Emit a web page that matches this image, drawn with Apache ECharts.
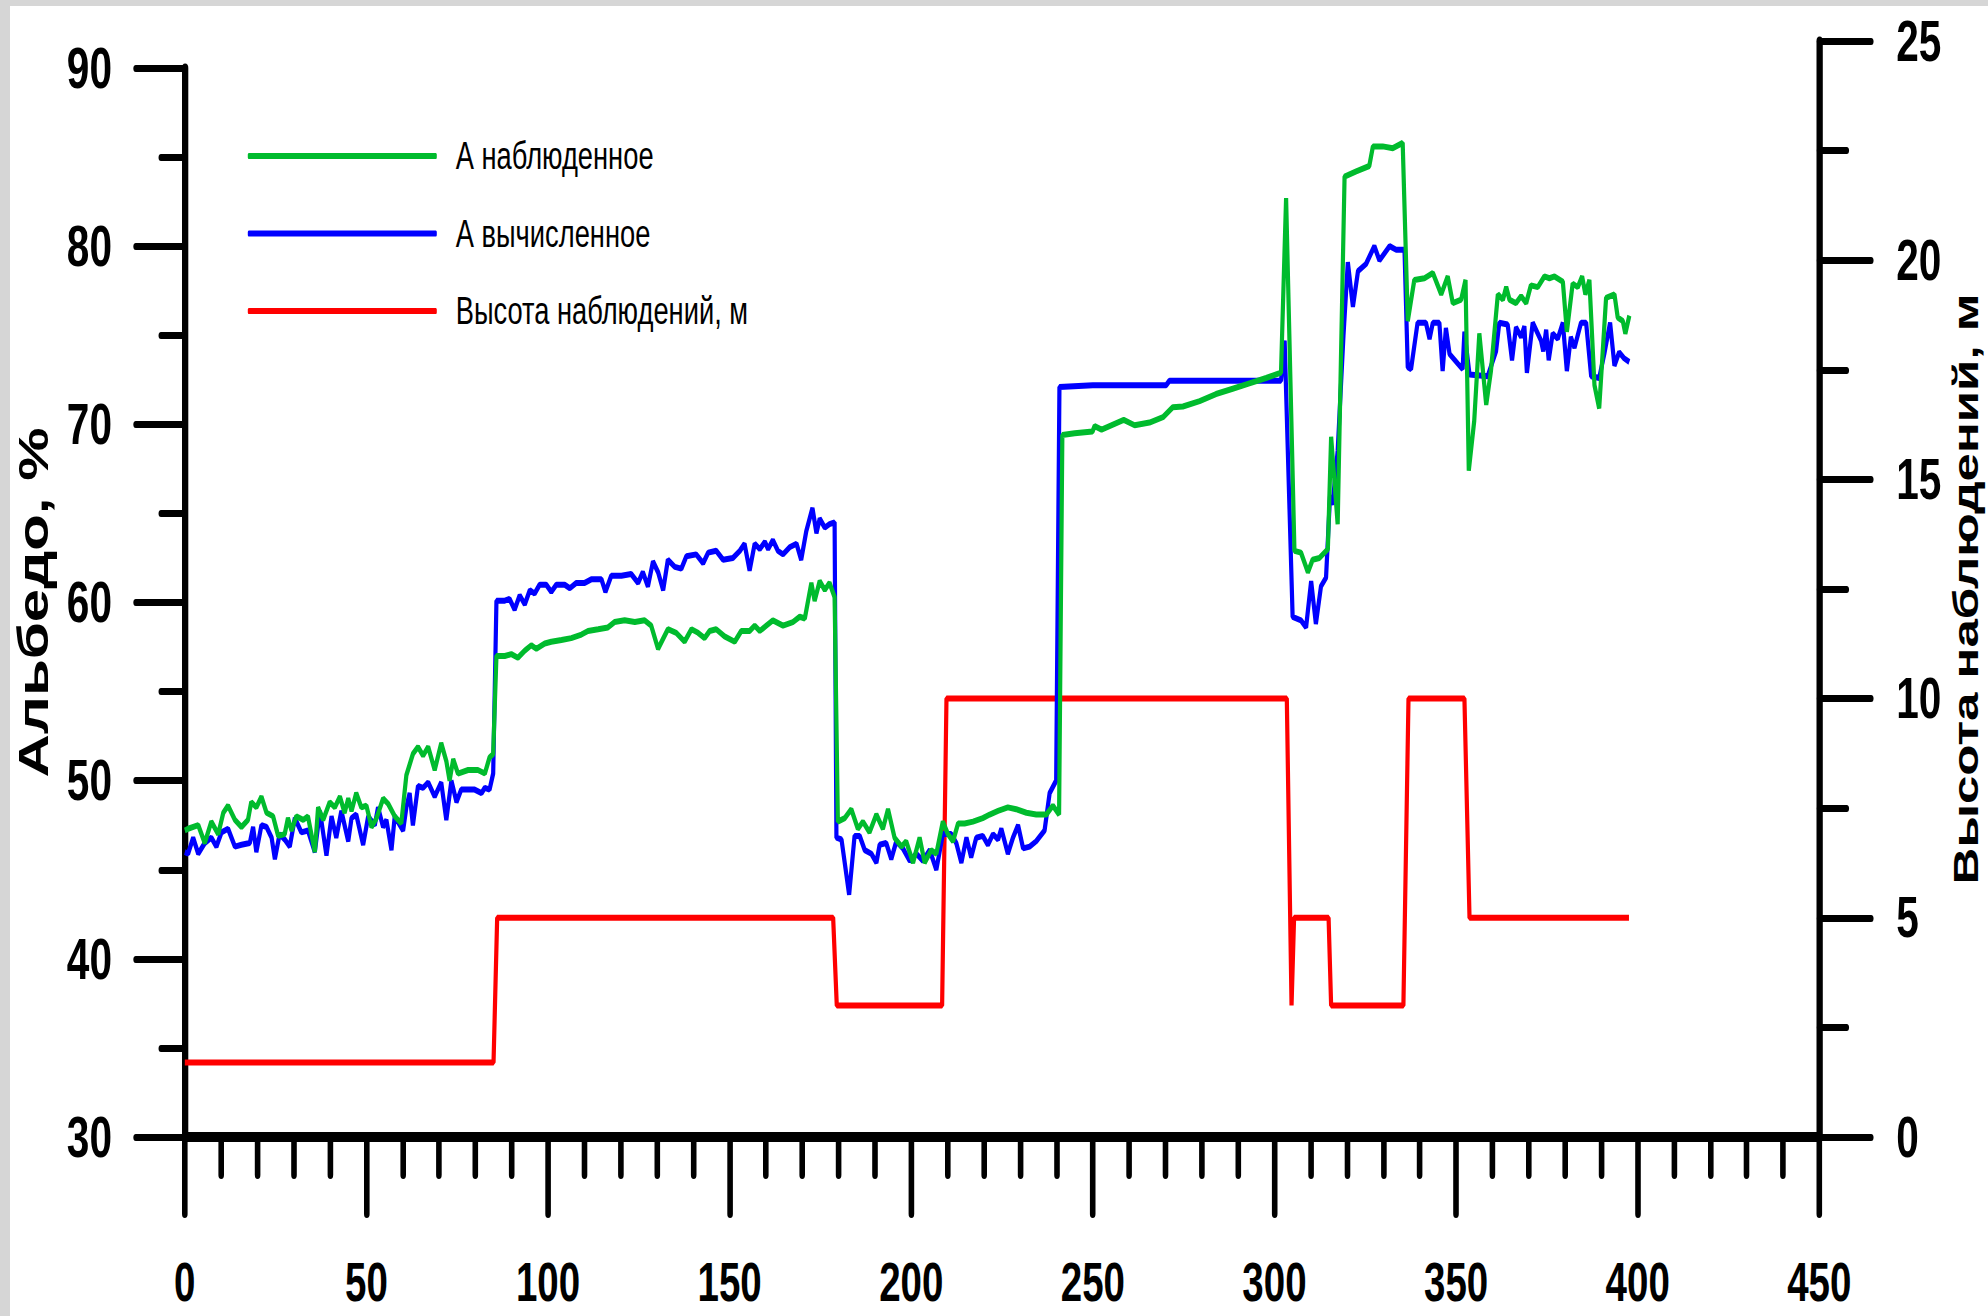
<!DOCTYPE html>
<html>
<head>
<meta charset="utf-8">
<script src="https://cdn.jsdelivr.net/npm/echarts@6/dist/echarts.min.js"></script>
<style>
html,body{margin:0;padding:0;background:#d6d6d6;overflow:hidden;}
#bg{position:absolute;left:10px;top:6px;width:1978px;height:1310px;background:#ffffff;}
/* the reference picture is horizontally condensed (x0.7): the chart is laid out 2840px wide and squeezed to 1988px */
#chart{position:absolute;left:0;top:0;width:2840px;height:1316px;transform:scaleX(0.7);transform-origin:0 0;}
</style>
</head>
<body>
<div id="bg"></div>
<div id="chart"></div>
<script>
// ---- Data ----
const seriesNames = ['А наблюденное', 'А вычисленное', 'Высота наблюдений, м'];

// A наблюденное (observed albedo, %)
const obsX = [0,0.9,3.7,5.5,7.3,9.2,10.6,11.9,13.8,15.6,17.4,18.3,19.7,21.1,22.5,24.3,25.7,27.5,28.4,29.4,30.7,32.6,33.9,35.8,36.7,38.1,39.9,41.3,42.7,44.0,45.0,45.9,47.2,48.6,50.0,51.4,52.8,54.6,56.0,57.8,59.6,61.0,62.8,64.2,65.6,67.0,68.8,70.6,72.0,72.9,73.9,75.2,78.0,80.7,82.6,83.9,84.9,
85.8,88.1,89.9,91.7,93.6,95.4,96.8,99.1,100.9,103.7,106.4,109.2,111.0,113.8,116.5,118.3,121.1,123.9,126.6,128.4,130.3,133.0,135.3,137.6,139.5,141.3,143.1,144.5,146.3,148.6,151.4,153.2,155.5,156.9,158.3,160.1,161.9,164.7,167.4,169.3,170.7,172.5,173.4,174.8,176.2,177.5,178.9,
179.8,181.7,183.5,185.3,186.7,188.5,190.4,192.2,193.6,195.4,197.3,198.6,200.5,202.3,203.7,205.5,206.9,208.7,210.1,211.5,212.9,214.7,217.0,219.7,221.6,223.9,226.6,228.9,231.7,234.4,237.2,239.0,240.7,
241.6,245.0,249.9,250.5,252.4,258.5,261.5,265.6,269.3,272.0,274.8,279.4,283.9,288.5,293.1,297.7,301.8,303.2,305.5,307.3,309.2,310.5,312.4,314.7,315.6,317.4,319.3,322.5,326.1,327.1,329.8,332.6,335.3,
336.7,338.5,341.3,343.6,345.9,347.7,349.1,351.4,352.6,353.5,355.0,356.4,358.3,359.6,361.5,362.9,363.8,364.7,366.5,367.9,369.3,370.6,372.5,374.3,375.7,377.1,379.4,380.5,382.1,383.5,384.7,385.6,386.7,388.1,389.4,391.3,393.6,394.5,395.9,396.6,397.7];
const obsY = [47.2,47.3,47.5,46.5,47.7,47.0,48.2,48.6,47.8,47.4,47.8,48.8,48.5,49.1,48.2,48.0,46.9,47.0,47.9,47.2,48.0,47.8,48.0,46.0,48.5,47.8,48.8,48.5,49.1,48.2,49.0,48.3,49.3,48.5,48.6,47.4,47.9,49.0,48.7,48.0,47.6,50.3,51.5,51.9,51.4,51.9,50.6,52.1,51.1,50.0,51.2,50.4,50.6,50.6,50.4,51.3,51.5,
57.0,57.0,57.1,56.9,57.3,57.6,57.4,57.7,57.8,57.9,58.0,58.2,58.4,58.5,58.6,58.9,59.0,58.9,59.0,58.7,57.4,58.5,58.3,57.8,58.5,58.3,58.0,58.4,58.5,58.1,57.8,58.4,58.4,58.7,58.4,58.7,59.0,58.7,58.9,59.2,59.1,61.1,60.1,61.2,60.7,61.1,60.3,
47.7,47.9,48.4,47.3,47.7,47.1,48.1,47.3,48.4,46.8,46.3,46.6,45.4,46.8,45.4,46.1,45.9,47.7,47.0,46.6,47.6,47.6,47.7,47.9,48.1,48.3,48.5,48.4,48.2,48.1,48.1,48.6,48.1,
69.4,69.5,69.6,69.9,69.7,70.25,69.95,70.1,70.4,70.96,71.0,71.3,71.7,72.0,72.3,72.6,72.9,82.7,62.9,62.8,61.7,62.4,62.5,63.0,69.3,64.4,83.9,84.2,84.5,85.6,85.6,85.5,85.8,
75.8,78.1,78.2,78.5,77.3,78.3,76.8,77.0,78.1,67.4,70.2,75.1,71.1,73.0,77.3,77.0,77.7,77.0,76.8,77.2,76.8,77.8,77.7,78.3,78.2,78.3,78.0,75.2,77.9,77.7,78.3,77.3,78.1,72.2,70.9,77.1,77.3,76.0,75.8,75.1,76.1];

// A вычисленное (calculated albedo, %)
const calcX = [0,0.9,2.3,3.7,5.5,7.3,8.7,10.1,11.9,13.8,15.6,17.9,18.8,19.7,21.1,22.5,23.9,24.8,26.1,27.5,28.9,30.3,32.1,33.9,35.8,37.2,39.0,40.4,41.7,43.1,45.0,45.9,47.2,49.1,50.5,52.3,53.2,54.6,55.5,56.9,57.8,60.1,61.0,61.9,62.8,64.2,65.6,67.0,68.8,70.6,72.0,73.4,74.8,76.1,78.0,79.8,81.7,82.6,83.9,84.9,
85.8,88.1,89.4,90.8,92.2,93.6,95.0,96.3,97.7,99.5,100.9,102.3,104.6,106.0,107.8,110.1,111.9,114.7,115.8,117.4,120.2,122.9,124.8,126.1,127.5,128.9,130.3,131.7,133.0,134.9,136.7,138.1,140.8,142.7,144.1,146.3,148.2,150.9,152.8,154.1,155.5,156.9,158.3,159.7,160.6,161.9,163.3,164.7,166.5,168.4,169.7,171.1,172.8,173.9,174.8,176.2,177.5,178.9,
179.4,180.8,182.9,184.4,185.8,187.2,189.0,190.4,191.3,193.1,194.5,195.9,197.7,199.6,201.4,203.2,205.1,206.9,208.7,211.0,212.4,213.8,215.2,216.5,217.9,219.7,221.1,222.5,223.9,224.8,226.6,228.0,229.4,230.8,232.6,234.4,236.7,238.1,239.9,
240.8,250.0,262.0,270.2,271.1,301.8,302.8,305.0,307.3,308.7,310.1,311.4,312.8,314.2,315.3,316.0,317.4,319.0,320.2,321.6,323.0,325.2,327.5,328.9,331.7,333.5,335.8,
336.7,337.6,339.4,341.7,342.7,343.6,345.4,346.3,347.2,348.2,350.5,351.8,352.3,353.7,358.7,361.0,361.9,364.2,365.4,366.5,367.9,368.8,369.5,371.1,373.4,374.0,374.8,375.5,376.6,378.0,379.4,380.5,381.6,382.6,384.4,385.8,387.2,389.4,390.8,392.4,393.6,394.9,396.3,397.7];
const calcY = [46.0,45.9,46.8,45.9,46.5,46.8,46.3,47.1,47.3,46.3,46.4,46.5,47.4,46.0,47.5,47.4,46.8,45.6,47.0,46.7,46.3,47.9,47.1,47.2,46.0,48.3,45.8,48.0,46.8,48.3,46.6,47.9,48.1,46.4,48.0,47.5,48.5,47.4,47.8,46.1,48.0,47.2,48.5,49.3,47.5,49.7,49.6,49.9,49.1,49.9,47.8,50.0,48.8,49.5,49.5,49.5,49.3,49.6,49.5,50.4,
60.1,60.1,60.2,59.6,60.4,59.9,60.7,60.5,61.0,61.0,60.6,61.0,61.0,60.8,61.1,61.1,61.3,61.3,60.6,61.5,61.5,61.6,61.1,61.7,60.9,62.3,61.7,60.7,62.4,62.0,61.9,62.6,62.7,62.2,62.8,62.9,62.4,62.5,62.9,63.3,61.8,63.3,63.0,63.4,63.0,63.5,62.9,62.7,63.1,63.3,62.4,64.0,65.3,63.9,64.7,64.2,64.4,64.5,
46.8,46.7,43.6,46.9,46.9,46.1,45.9,45.4,46.4,46.5,45.6,46.6,46.2,45.5,45.9,45.5,46.1,45.0,47.0,47.0,46.5,45.4,46.8,45.7,46.8,46.9,46.4,47.0,46.7,47.3,45.9,46.8,47.5,46.2,46.3,46.6,47.2,49.3,50.0,
72.1,72.2,72.2,72.2,72.45,72.45,74.7,59.2,59.0,58.6,61.2,58.8,60.9,61.4,66.0,65.5,68.5,75.0,79.1,76.6,78.6,79.0,80.0,79.2,80.0,79.8,79.8,
73.2,73.1,75.7,75.7,74.8,75.7,75.7,73.0,75.4,73.95,73.4,73.1,75.2,72.8,72.7,74.1,75.7,75.6,73.6,75.45,74.9,75.5,72.9,75.7,74.7,74.1,75.3,73.6,75.1,74.8,75.7,73.0,74.9,74.3,75.7,75.7,72.7,72.6,73.95,75.7,73.3,74.05,73.7,73.5];

// Высота наблюдений, м (observation height)
const heightX = [0,85,86,178.5,179.5,208.5,209.7,303.4,304.7,305.4,314.9,315.6,335.5,336.9,352.3,353.7,397.6];
const heightY = [1.7,1.7,5,5,3,3,10,10,3,5,5,3,3,10,10,5,5];

// Axis ranges
const xRange = [0, 450, 50];
const albedoRange = [30, 90, 10];
const heightRange = [0, 25, 5];

// ---- Chart ----
const pairs = (xs, ys) => xs.map((x, i) => [x, ys[i]]);
const font = "'Liberation Sans',Arial,sans-serif";

const chart = echarts.init(document.getElementById('chart'), null, {renderer: 'svg'});
chart.setOption({
  animation: false,
  backgroundColor: 'transparent',
  grid: [
    {left: 264, right: 241, top: 68, bottom: 179, outerBoundsMode: 'none', containLabel: false},
    {left: 264, right: 241, top: 41, bottom: 179, outerBoundsMode: 'none', containLabel: false}
  ],
  legend: {
    data: seriesNames,
    orient: 'vertical',
    left: 354, top: 133, padding: 0,
    itemWidth: 270, itemHeight: 6, itemGap: 31.5,
    icon: 'roundRect',
    textStyle: {fontSize: 39, fontFamily: font, color: '#000', lineHeight: 46, padding: [0, 0, 0, 22]}
  },
  xAxis: [
    {
      gridIndex: 0, type: 'value', min: xRange[0], max: xRange[1], interval: xRange[2],
      axisLine: {show: true, onZero: false, lineStyle: {color: '#000', width: 10}},
      axisTick: {show: true, length: 77, lineStyle: {color: '#000', width: 8, cap: 'round'}},
      minorTick: {show: true, splitNumber: 5, length: 38, lineStyle: {color: '#000', width: 8, cap: 'round'}},
      splitLine: {show: false},
      axisLabel: {margin: 122, fontSize: 55, lineHeight: 46, fontWeight: 'bold', fontFamily: font, color: '#000'}
    },
    {gridIndex: 1, type: 'value', min: xRange[0], max: xRange[1], show: false}
  ],
  yAxis: [
    {
      gridIndex: 0, type: 'value', position: 'left', min: albedoRange[0], max: albedoRange[1], interval: albedoRange[2],
      axisLine: {show: true, onZero: false, lineStyle: {color: '#000', width: 9}},
      axisTick: {show: true, length: 70, lineStyle: {color: '#000', width: 7, cap: 'round'}},
      minorTick: {show: true, splitNumber: 2, length: 34, lineStyle: {color: '#000', width: 7, cap: 'round'}},
      splitLine: {show: false},
      axisLabel: {margin: 104, fontSize: 58, lineHeight: 46, fontWeight: 'bold', fontFamily: font, color: '#000'},
      name: 'Альбедо, %', nameLocation: 'middle', nameGap: 191, nameRotate: 90, nameMoveOverlap: false,
      nameTextStyle: {fontSize: 60, lineHeight: 50, fontWeight: 'bold', fontFamily: font, color: '#000'}
    },
    {
      gridIndex: 1, type: 'value', position: 'right', min: heightRange[0], max: heightRange[1], interval: heightRange[2],
      axisLine: {show: true, onZero: false, lineStyle: {color: '#000', width: 9}},
      axisTick: {show: true, length: 74, lineStyle: {color: '#000', width: 7, cap: 'round'}},
      minorTick: {show: true, splitNumber: 2, length: 39, lineStyle: {color: '#000', width: 7, cap: 'round'}},
      splitLine: {show: false},
      axisLabel: {margin: 110, fontSize: 58, lineHeight: 46, fontWeight: 'bold', fontFamily: font, color: '#000'},
      name: 'Высота наблюдений, м', nameLocation: 'middle', nameGap: 187, nameRotate: 90, nameMoveOverlap: false,
      nameTextStyle: {fontSize: 51, lineHeight: 44, fontWeight: 'bold', fontFamily: font, color: '#000'}
    }
  ],
  series: [
    {
      name: seriesNames[2], type: 'line', xAxisIndex: 1, yAxisIndex: 1,
      data: pairs(heightX, heightY), symbol: 'none', showSymbol: false,
      lineStyle: {color: '#ff0000', width: 6}, itemStyle: {color: '#ff0000'}
    },
    {
      name: seriesNames[1], type: 'line', xAxisIndex: 0, yAxisIndex: 0,
      data: pairs(calcX, calcY), symbol: 'none', showSymbol: false,
      lineStyle: {color: '#0000ff', width: 6}, itemStyle: {color: '#0000ff'}
    },
    {
      name: seriesNames[0], type: 'line', xAxisIndex: 0, yAxisIndex: 0,
      data: pairs(obsX, obsY), symbol: 'none', showSymbol: false,
      lineStyle: {color: '#00bb2d', width: 6}, itemStyle: {color: '#00bb2d'}
    }
  ]
});
</script>
</body>
</html>
